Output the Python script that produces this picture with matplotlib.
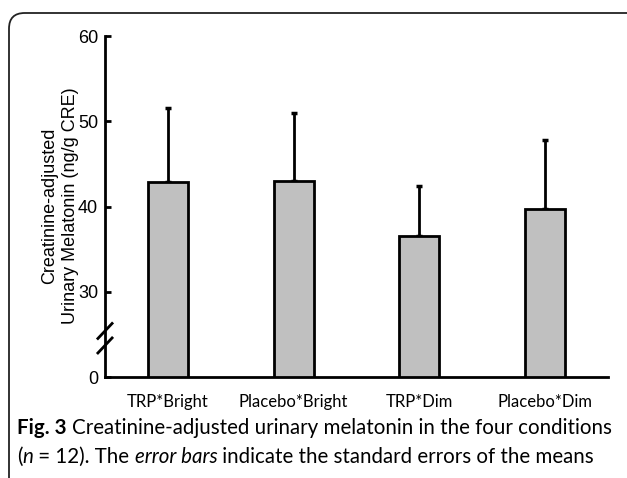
import matplotlib
matplotlib.use("Agg")
import matplotlib.pyplot as plt
from matplotlib.patches import FancyBboxPatch
import numpy as np

categories = ["TRP*Bright", "Placebo*Bright", "TRP*Dim", "Placebo*Dim"]
means = [42.9, 43.0, 36.5, 39.7]
sems = [8.6, 8.0, 5.9, 8.1]
tick_values = [0, 30, 40, 50, 60]

# broken axis: real 0 drawn at position 20, values >= 30 drawn as-is
def to_axis(v):
    return v if v >= 30 else 20 + v * (10 / 30)

W, H = 627, 478
fig = plt.figure(figsize=(W / 100, H / 100), dpi=100)

# rounded frame
frame = FancyBboxPatch((9 / W, 1 - 13 / H - 500 / H), 650 / W, 500 / H,
                       boxstyle="round,pad=0,rounding_size=0.025",
                       transform=fig.transFigure, facecolor="none",
                       edgecolor="#222222", linewidth=1.3, mutation_aspect=W / H)
fig.patches.append(frame)

ax = fig.add_axes([105 / W, 1 - 377 / H, (608 - 105) / W, (377 - 36) / H])
x = np.arange(len(categories))
base = to_axis(0)
heights = [to_axis(m) - base for m in means]
ax.bar(x, heights, bottom=base, width=0.32, color="#c0c0c0",
       edgecolor="black", linewidth=2.0, zorder=3)
ax.errorbar(x, [to_axis(m) for m in means], yerr=[np.zeros(len(sems)), sems],
            fmt="none", ecolor="black", elinewidth=2.0, capsize=2.5,
            capthick=2.5, zorder=2)

ax.set_xlim(-0.5, 3.5)
ax.set_ylim(20, 60)
ax.set_yticks([to_axis(v) for v in tick_values])
ax.set_yticklabels([str(v) for v in tick_values], family="Liberation Sans",
                   fontsize=13)
ax.set_xticks(x)
ax.set_xticklabels(categories, family="Lato", fontsize=12)
ax.tick_params(axis="y", direction="in", length=4, width=2, pad=5)
ax.tick_params(axis="x", length=0, pad=12)
for s in ["top", "right"]:
    ax.spines[s].set_visible(False)
for s in ["left", "bottom"]:
    ax.spines[s].set_linewidth(2.0)

# break marks
for yc in [25.4, 23.7]:
    ax.plot([-0.5 - 0.064, -0.5 + 0.064], [yc - 1.0, yc + 1.0], color="black",
            linewidth=2.0, clip_on=False, zorder=5, solid_capstyle="butt")

fig.text(60 / W, 1 - 206 / H,
         "Creatinine-adjusted\nUrinary Melatonin (ng/g CRE)",
         family="Liberation Sans", fontsize=13, linespacing=1.25,
         rotation=90, ha="center", va="center", multialignment="center")

renderer = fig.canvas.get_renderer()
FS = 14.8
t1 = fig.text(17 / W, 1 - 428 / H, "Fig. 3", family="Lato", fontweight="bold",
              fontsize=FS, va="center", ha="left")
bb = t1.get_window_extent(renderer)
fig.text((bb.x1 + 5) / W, 1 - 428 / H,
         "Creatinine-adjusted urinary melatonin in the four conditions",
         family="Lato", fontsize=FS, va="center", ha="left")
line2 = [("(", "normal"), ("n", "italic"), (" = 12). The ", "normal"),
         ("error bars", "italic"),
         (" indicate the standard errors of the means", "normal")]
xpos = 17
for s, style in line2:
    t = fig.text(xpos / W, 1 - 457 / H, s, family="Lato", fontsize=FS,
                 style=style, va="center", ha="left")
    xpos = t.get_window_extent(renderer).x1

fig.savefig("out.png", dpi=100)
